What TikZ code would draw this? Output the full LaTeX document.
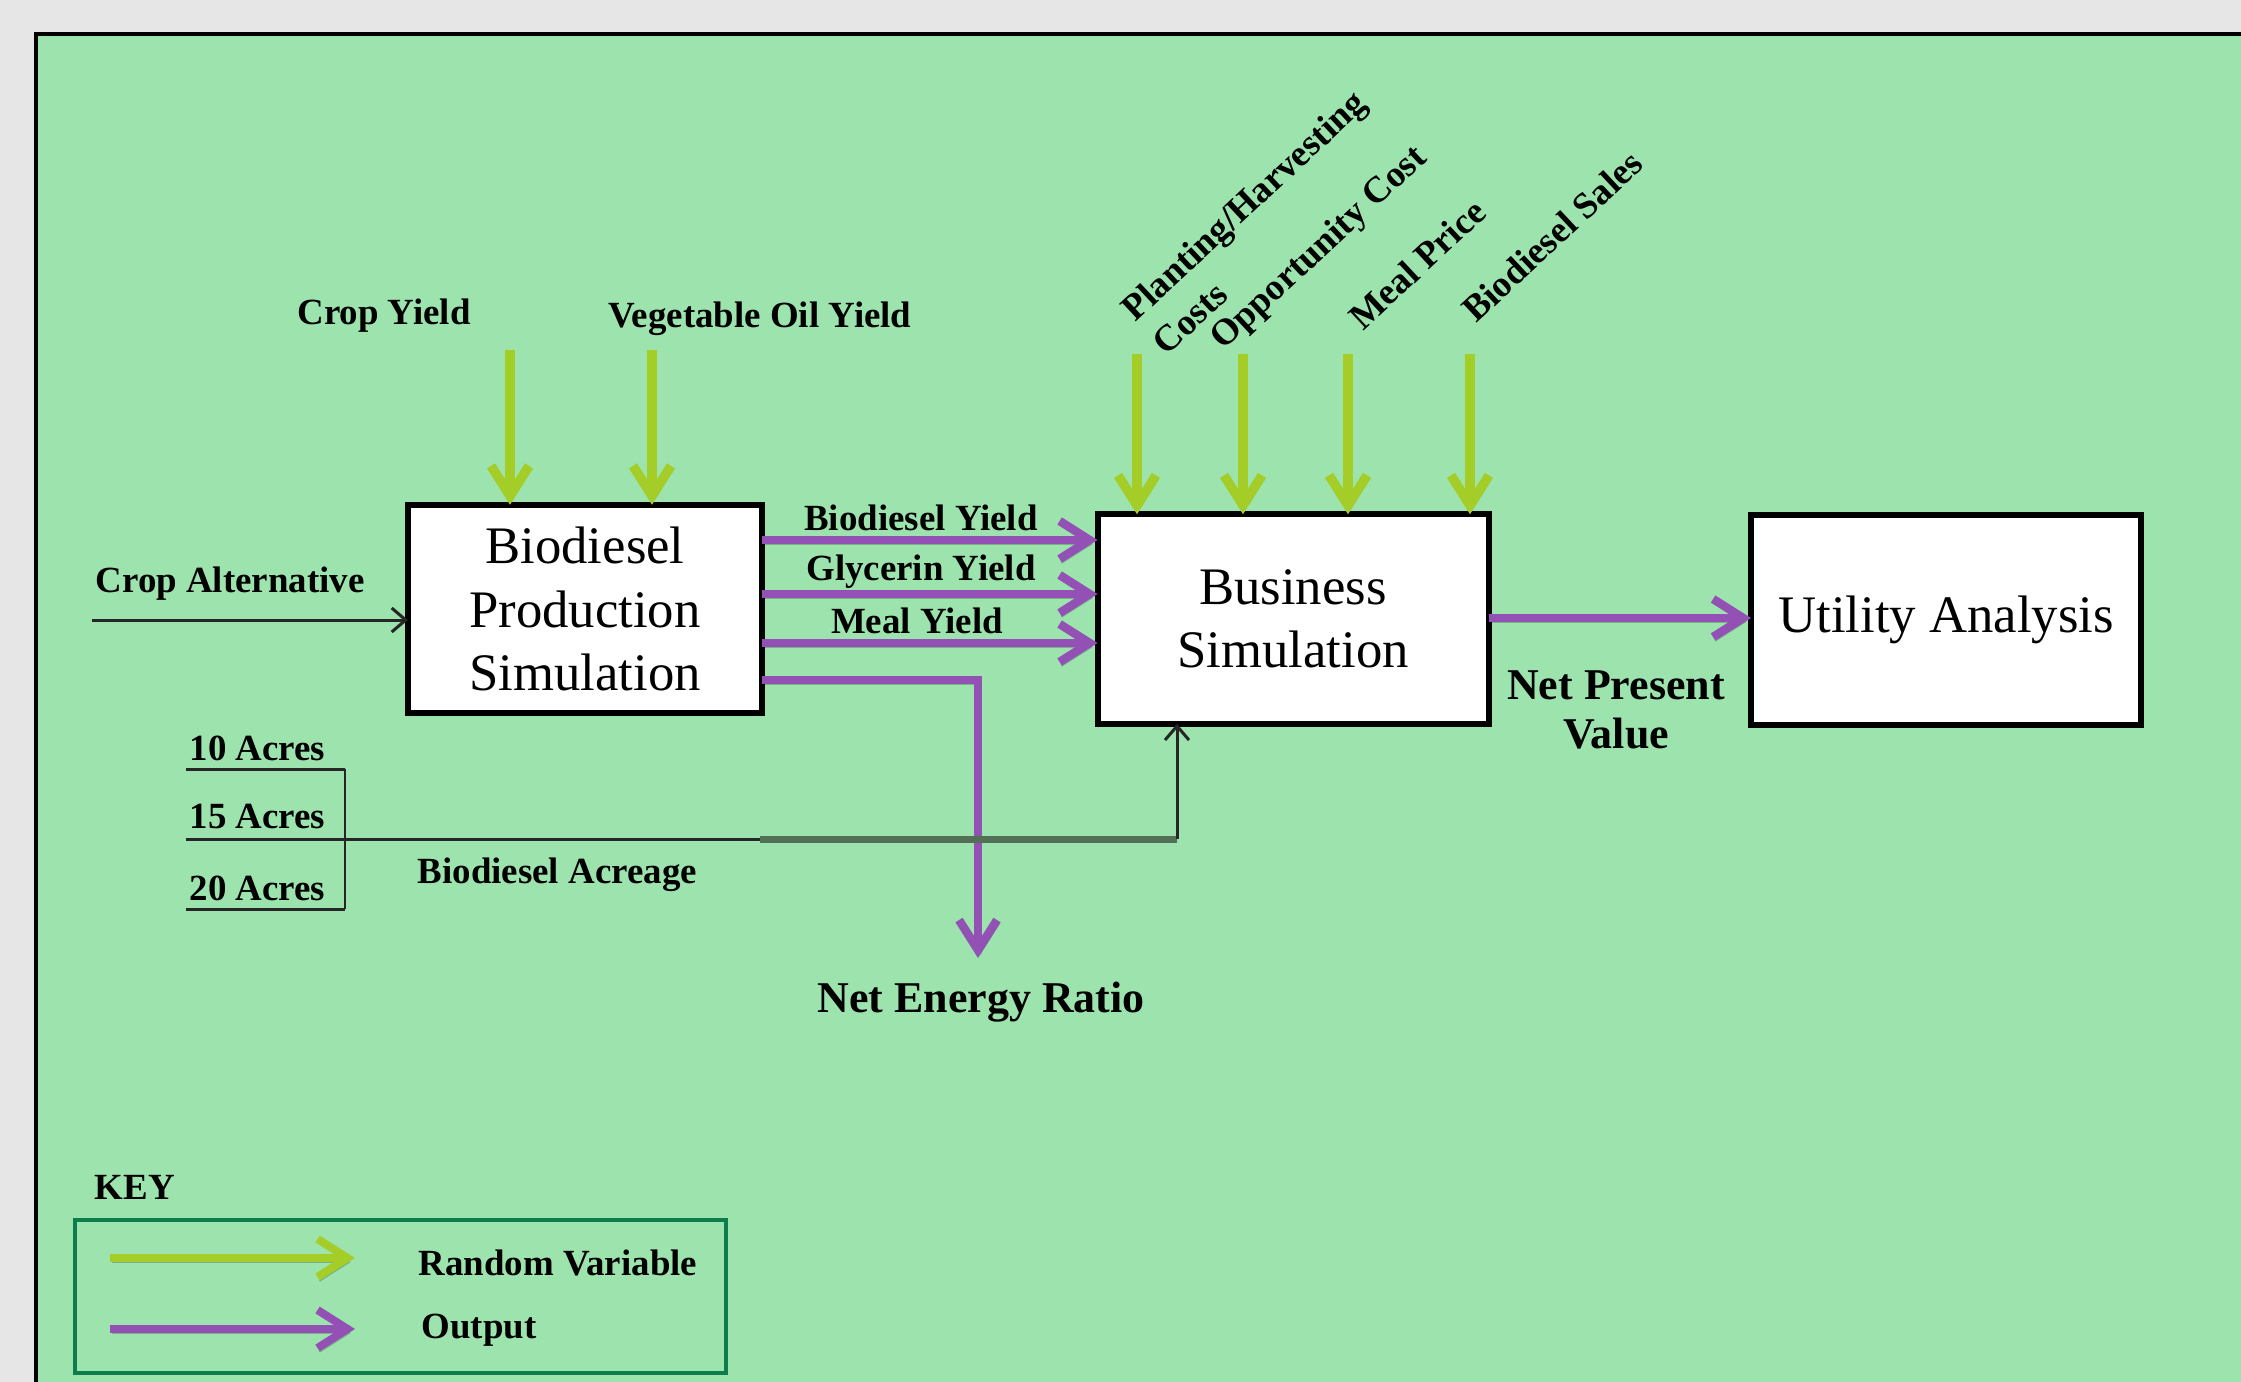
\documentclass[tikz,border=0pt]{standalone}
\usepackage{fontspec}
\setmainfont{Liberation Serif}
\usetikzlibrary{arrows.meta}
\definecolor{panelgreen}{HTML}{9DE3AE}
\definecolor{outergray}{HTML}{E6E6E6}
\definecolor{rvgreen}{HTML}{A4CD28}
\definecolor{outpurple}{HTML}{9350B5}
\definecolor{keygreen}{HTML}{0E7D4E}
\definecolor{acregray}{HTML}{527056}
\begin{document}
\begin{tikzpicture}[x=0.1mm,y=-0.1mm,
  box/.style={draw=black,line width=0.6mm,fill=white,inner sep=0pt,outer sep=0pt,align=center,font=\fontsize{15}{18}\selectfont},
  lbl/.style={font=\fontsize{10.5}{13}\selectfont\bfseries,inner sep=0pt},
  biglbl/.style={font=\fontsize{12.5}{14}\selectfont\bfseries,inner sep=0pt,align=center},
  dropsh/.style={preaction={draw=black,opacity=0.22,transform canvas={xshift=0.2mm,yshift=-0.4mm}}},
  rv/.style={draw=rvgreen,line width=0.95mm,-{Straight Barb[length=3mm,width=3.8mm]},dropsh},
  outp/.style={draw=outpurple,line width=0.85mm,-{Straight Barb[length=3mm,width=3.8mm]},dropsh},
  uline/.style={draw=black!85,line width=0.3mm},
  thinarr/.style={draw=black!85,line width=0.3mm,-{Straight Barb[length=1.4mm,width=2.4mm]}}
]
\useasboundingbox (0,0) rectangle (2241,1382);
\fill[outergray] (0,0) rectangle (2241,1382);
\fill[panelgreen] (36,34) rectangle (2260,1400);
\draw[line width=0.35mm] (36,1400) -- (36,34) -- (2260,34);

% boxes
\node[box,minimum width=35.4mm,minimum height=20.85mm] (b1) at (585,609) {Biodiesel\\Production\\Simulation};
\node[box,minimum width=39.1mm,minimum height=20.95mm] (b2) at (1293,619) {Business\\Simulation};
\node[box,minimum width=39mm,minimum height=21mm] (b3) at (1946,619.5) {Utility Analysis};

% labels
\node[lbl,anchor=base] (cy) at (384,325) {Crop Yield};
\node[lbl,anchor=base] (vo) at (760,328) {Vegetable Oil Yield};
\node[lbl,anchor=base west] (ca) at (95,593) {Crop Alternative};
\node[lbl,anchor=base] (ly1) at (921,530) {Biodiesel Yield};
\node[lbl,anchor=base] (ly2) at (921,580) {Glycerin Yield};
\node[lbl,anchor=base] (ly3) at (917,633) {Meal Yield};
\node[lbl,anchor=base west] (a10) at (189,760) {10 Acres};
\node[lbl,anchor=base west] (a15) at (189,828) {15 Acres};
\node[lbl,anchor=base west] (a20) at (189,900) {20 Acres};
\node[lbl,anchor=base west] (acr) at (417,883) {Biodiesel Acreage};
\node[biglbl,anchor=base] (ner) at (981,1012) {Net Energy Ratio};
\node[biglbl] (npv) at (1616,710) {Net Present\\Value};

\node[lbl,rotate=43,align=left] (pc) at (1259,222) {Planting/Harvesting\\Costs};
\node[lbl,rotate=43] (oc) at (1320,249) {Opportunity Cost};
\node[lbl,rotate=43] (mp) at (1417,264) {Meal Price};
\node[lbl,rotate=43] (bs) at (1552,236) {Biodiesel Sales};

% random variable arrows
\coordinate (s1) at (510,350);
\coordinate (s2) at (652,350);
\draw[rv] (s1) -- (s1 |- b1.north);
\draw[rv] (s2) -- (s2 |- b1.north);
\coordinate (t1) at (1137,354);
\coordinate (t2) at (1243,354);
\coordinate (t3) at (1348,354);
\coordinate (t4) at (1470,354);
\foreach \t in {t1,t2,t3,t4} {\draw[rv] (\t) -- (\t |- b2.north);}

% output arrows
\coordinate (o1) at (900,540);
\coordinate (o2) at (900,594);
\coordinate (o3) at (900,643);
\foreach \o in {o1,o2,o3} {\draw[outp] (b1.east |- \o) -- (b2.west |- \o);}
\coordinate (ne) at (978,680);
\coordinate (netip) at (978,958);
\draw[outp] (b1.east |- ne) -- (ne) -- (netip);
\coordinate (np) at (1600,618);
\draw[outp] (b2.east |- np) -- (b3.west |- np);

% crop alternative
\coordinate (cas) at (92,620);
\draw[thinarr] (cas) -- (cas -| b1.west);

% acreage
\coordinate (u10a) at (186,769);
\coordinate (u10b) at (345,769);
\coordinate (u15a) at (186,839);
\coordinate (u15b) at (760,839);
\coordinate (u15c) at (1177,839);
\coordinate (u20a) at (186,909);
\coordinate (u20b) at (345,909);
\draw[uline] (u10a) -- (u10b);
\draw[uline] (u20a) -- (u20b);
\draw[uline] (u15a) -- (u15b);
\draw[draw=black!85,line width=0.18mm] (u10b) -- (u20b);
\draw[draw=acregray,line width=0.7mm] (u15b) -- (u15c);
\draw[thinarr,line width=0.3mm] (u15c) -- (u15c |- b2.south);

% key
\node[lbl,anchor=base west] (key) at (94,1199) {KEY};
\node[draw=keygreen,line width=0.4mm,minimum width=65.1mm,minimum height=15.3mm,inner sep=0pt] (keybox) at (400.5,1296.5) {};
\coordinate (k1a) at (110,1258);
\coordinate (k1b) at (355,1258);
\coordinate (k2a) at (110,1329);
\coordinate (k2b) at (355,1329);
\draw[rv,line width=0.8mm] (k1a) -- (k1b);
\draw[outp,line width=0.8mm] (k2a) -- (k2b);
\node[lbl,anchor=base west] (krv) at (418,1275) {Random Variable};
\node[lbl,anchor=base west] (kout) at (421,1338) {Output};
\end{tikzpicture}
\end{document}
